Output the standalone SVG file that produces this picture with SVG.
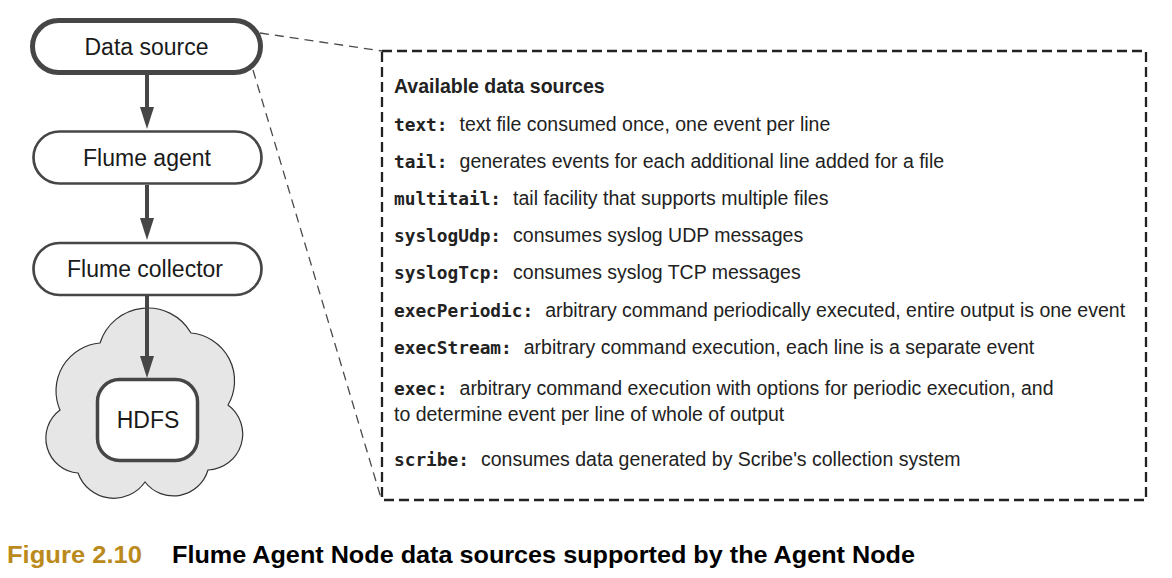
<svg xmlns="http://www.w3.org/2000/svg" width="1172" height="578" viewBox="0 0 1172 578">
<style>
.node{fill:#fff;stroke:#464646}
.lbl{font-family:"Liberation Sans",Arial,sans-serif;font-size:23px;fill:#1a1a1a;text-anchor:middle}
.arrow{stroke:#464646;stroke-width:4;fill:none}
.lead{stroke:#4a4a4a;stroke-width:1.3;stroke-dasharray:9 6;fill:none}
.box{fill:#fff;stroke:#222;stroke-width:2.3;stroke-dasharray:10 5}
.t{font-family:"Liberation Sans",Arial,sans-serif;font-size:19.5px;fill:#222}
.m{font-family:"DejaVu Sans Mono",monospace;font-weight:bold;font-size:17.8px;fill:#222}
.h{font-family:"Liberation Sans",Arial,sans-serif;font-size:19.5px;font-weight:bold;fill:#222}
.cap{font-family:"Liberation Sans",Arial,sans-serif;font-size:23.5px;font-weight:bold}
</style>
<defs>
<marker id="ah" markerUnits="userSpaceOnUse" markerWidth="22" markerHeight="14" viewBox="0 0 22 14" refX="10" refY="7" orient="auto">
<path d="M0,0 L22,7 L0,14 Z" fill="#464646"/>
</marker>
</defs>
<g id="cloud">
<path d="M100,343 A50,50 0 0 1 191,333 A48,48 0 0 1 228,405 A36,36 0 0 1 208,470 A36,36 0 0 1 145,482 A38,38 0 0 1 78,473 A35,35 0 0 1 60,410 A48,48 0 0 1 100,343 Z" fill="#e6e6e6" stroke="#333" stroke-width="1.2"/>
</g>
<g id="connectors">
<line class="lead" x1="260" y1="33" x2="382" y2="51"/>
<line class="lead" x1="253" y1="70" x2="381" y2="498"/>
<line class="arrow" x1="147" y1="75" x2="147" y2="117" marker-end="url(#ah)"/>
<line class="arrow" x1="147" y1="185" x2="147" y2="228" marker-end="url(#ah)"/>
<line class="arrow" x1="147" y1="296" x2="147" y2="366" marker-end="url(#ah)"/>
</g>
<g id="data-source">
<rect class="node" x="32.5" y="20.5" width="228" height="52" rx="26" stroke-width="5"/>
<text class="lbl" x="146.5" y="55">Data source</text>
</g>
<g id="flume-agent">
<rect class="node" x="33.5" y="131.5" width="228" height="52" rx="26" stroke-width="2.7"/>
<text class="lbl" x="147" y="166">Flume agent</text>
</g>
<g id="flume-collector">
<rect class="node" x="33.5" y="243" width="228" height="52" rx="26" stroke-width="2.7"/>
<text class="lbl" x="145" y="277">Flume collector</text>
</g>
<g id="hdfs">
<rect class="node" x="97.5" y="379.5" width="100" height="81" rx="22" stroke-width="3.5"/>
<text class="lbl" x="148" y="428">HDFS</text>
</g>
<g id="sources-box">
<rect class="box" x="382" y="51" width="764" height="449"/>
<text class="h" x="394" y="92.5">Available data sources</text>
<text x="394" y="131"><tspan class="m">text:</tspan><tspan class="t" dx="12">text file consumed once, one event per line</tspan></text>
<text x="394" y="168"><tspan class="m">tail:</tspan><tspan class="t" dx="12">generates events for each additional line added for a file</tspan></text>
<text x="394" y="205"><tspan class="m">multitail:</tspan><tspan class="t" dx="12">tail facility that supports multiple files</tspan></text>
<text x="394" y="242"><tspan class="m">syslogUdp:</tspan><tspan class="t" dx="12">consumes syslog UDP messages</tspan></text>
<text x="394" y="279"><tspan class="m">syslogTcp:</tspan><tspan class="t" dx="12">consumes syslog TCP messages</tspan></text>
<text x="394" y="317"><tspan class="m">execPeriodic:</tspan><tspan class="t" dx="12">arbitrary command periodically executed, entire output is one event</tspan></text>
<text x="394" y="354"><tspan class="m">execStream:</tspan><tspan class="t" dx="12">arbitrary command execution, each line is a separate event</tspan></text>
<text x="394" y="395"><tspan class="m">exec:</tspan><tspan class="t" dx="12">arbitrary command execution with options for periodic execution, and</tspan></text>
<text class="t" x="394" y="421">to determine event per line of whole of output</text>
<text x="394" y="466"><tspan class="m">scribe:</tspan><tspan class="t" dx="12">consumes data generated by Scribe's collection system</tspan></text>
</g>
<text class="cap" x="7" y="563" fill="#bb8a1c" textLength="135" lengthAdjust="spacingAndGlyphs">Figure 2.10</text>
<text class="cap" x="172" y="563" fill="#000" textLength="743" lengthAdjust="spacingAndGlyphs">Flume Agent Node data sources supported by the Agent Node</text>
</svg>
